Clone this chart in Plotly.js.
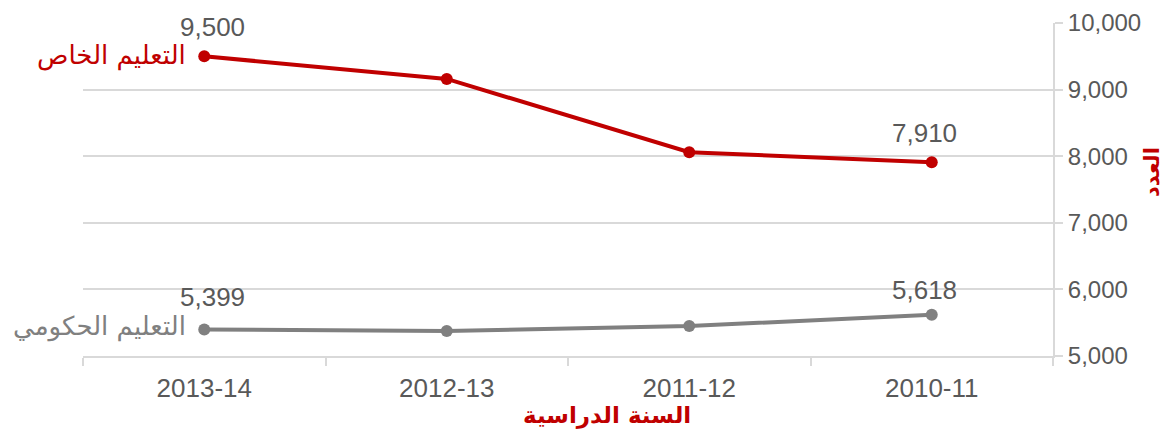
<!DOCTYPE html>
<html>
<head>
<meta charset="utf-8">
<script src="https://cdn.plot.ly/plotly-3.0.1.min.js"></script>
<style>html,body{margin:0;padding:0;background:#fff;}</style>
</head>
<body>
<div id="chart" style="width:1171px;height:430px;"></div>
<script>
const years = ['2013-14', '2012-13', '2011-12', '2010-11'];
const privateEdu = [9500, 9160, 8060, 7910];
const publicEdu = [5399, 5375, 5450, 5618];
const seriesNames = ['التعليم الخاص', 'التعليم الحكومي'];
const xTitle = 'السنة الدراسية';
const yTitle = 'العدد';
const yTicks = [5000, 6000, 7000, 8000, 9000, 10000];

const RED = '#C00000', GRAY = '#808080', TXT = '#595959', GRID = '#D9D9D9';
const FONT = 'DejaVu Sans, Tahoma, sans-serif';
const NUMFONT = 'Liberation Sans, Arial, sans-serif';

const traces = [
  {x: years, y: privateEdu, name: seriesNames[0], type: 'scatter', mode: 'lines+markers',
   line: {color: RED, width: 4}, marker: {color: RED, size: 12}},
  {x: years, y: publicEdu, name: seriesNames[1], type: 'scatter', mode: 'lines+markers',
   line: {color: GRAY, width: 4}, marker: {color: GRAY, size: 12}}
];

const fmt = v => v.toLocaleString('en-US');
const last = years.length - 1;
const annotations = [
  {x: years[0], y: privateEdu[0], text: fmt(privateEdu[0]), showarrow: false, xshift: 8, yshift: 29, font: {size: 26, color: TXT, family: NUMFONT}},
  {x: years[last], y: privateEdu[last], text: fmt(privateEdu[last]), showarrow: false, xshift: -7, yshift: 29, font: {size: 26, color: TXT, family: NUMFONT}},
  {x: years[0], y: publicEdu[0], text: fmt(publicEdu[0]), showarrow: false, xshift: 8, yshift: 32, font: {size: 26, color: TXT, family: NUMFONT}},
  {x: years[last], y: publicEdu[last], text: fmt(publicEdu[last]), showarrow: false, xshift: -7, yshift: 25, font: {size: 26, color: TXT, family: NUMFONT}},
  {x: years[0], y: privateEdu[0], text: seriesNames[0], showarrow: false, xanchor: 'right', xshift: -16, yshift: 1, font: {size: 26, color: RED, family: FONT}},
  {x: years[0], y: publicEdu[0], text: seriesNames[1], showarrow: false, xanchor: 'right', xshift: -16, yshift: 3, font: {size: 26, color: GRAY, family: FONT}},
  {xref: 'paper', yref: 'paper', x: (607 - 83) / 970, y: -59 / 333, xanchor: 'center', yanchor: 'middle', text: '<b>' + xTitle + '</b>', showarrow: false, font: {size: 23, color: RED, family: FONT}},
  {xref: 'paper', yref: 'paper', x: (1152 - 83) / 970, y: (356 - 172) / 333, xanchor: 'center', yanchor: 'middle', text: '<b>' + yTitle + '</b>', textangle: -90, showarrow: false, font: {size: 21, color: RED, family: FONT}}
];

const layout = {
  width: 1171, height: 430,
  margin: {l: 83, r: 118, t: 23, b: 74},
  paper_bgcolor: '#fff', plot_bgcolor: '#fff',
  showlegend: false,
  font: {family: NUMFONT, color: TXT},
  xaxis: {
    type: 'category', categoryorder: 'array', categoryarray: years, range: [-0.5, 3.5],
    tickson: 'boundaries', ticks: 'outside', ticklen: 8, tickwidth: 2, tickcolor: GRID,
    showline: true, linecolor: GRID, linewidth: 2, showgrid: false, zeroline: false,
    tickfont: {size: 26, color: TXT, family: NUMFONT}, ticklabelstandoff: 8
  },
  yaxis: {
    side: 'right', range: [5000, 10000], tickvals: yTicks, tickformat: ',d',
    showgrid: true, gridcolor: GRID, gridwidth: 2,
    ticks: 'outside', ticklen: 8, tickwidth: 2, tickcolor: GRID,
    showline: true, linecolor: GRID, linewidth: 2, zeroline: false,
    tickfont: {size: 24, color: TXT, family: NUMFONT}
  },
  annotations: annotations
};

Plotly.newPlot('chart', traces, layout, {displayModeBar: false, staticPlot: true});
</script>
</body>
</html>
